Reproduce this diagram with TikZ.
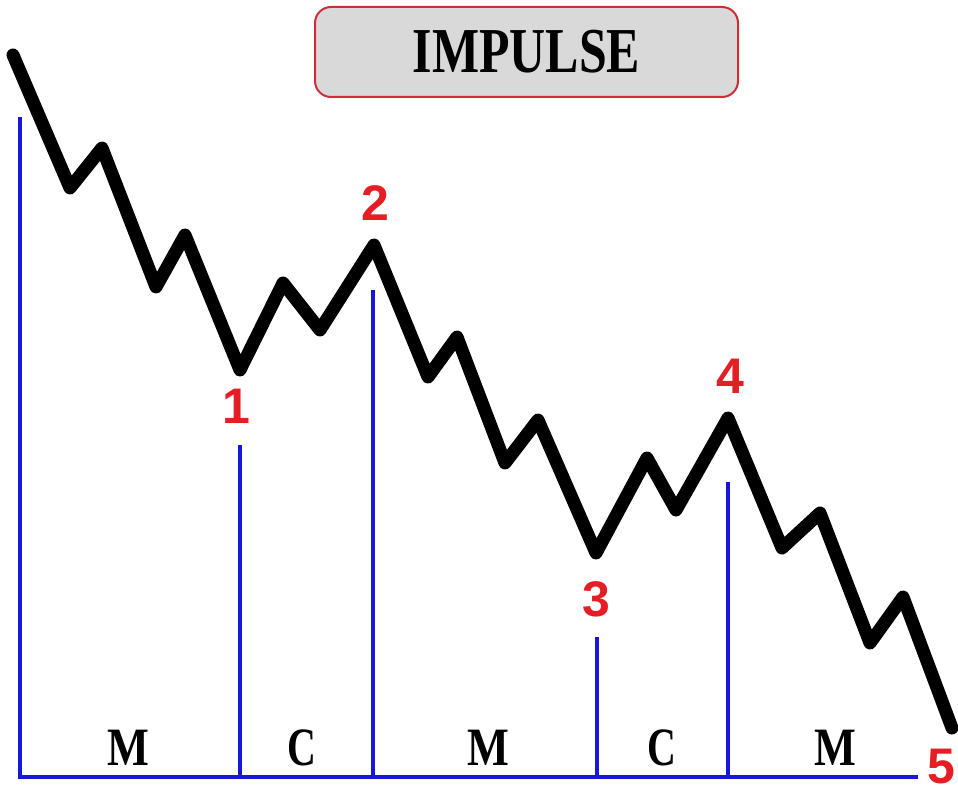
\documentclass[tikz,border=0pt]{standalone}
\usepackage{fontspec}
\setmainfont{Liberation Serif}
\newfontfamily\lsans{Liberation Sans}
\definecolor{wblue}{RGB}{22,22,220}
\definecolor{wred}{RGB}{228,30,36}
\definecolor{boxgray}{RGB}{217,217,217}
\definecolor{boxred}{RGB}{205,45,55}
\begin{document}
\begin{tikzpicture}[x=1pt,y=-1pt,
  wave/.style={line width=13pt,line cap=round,line join=round,black},
  guide/.style={line width=3.6pt,wblue},
  wnum/.style={inner sep=0pt,text=wred,font=\lsans\bfseries\fontsize{50}{50}\selectfont},
  seg/.style={inner sep=0pt,font=\bfseries\fontsize{54}{54}\selectfont},
  titlebox/.style={draw=boxred,line width=2pt,fill=boxgray,rounded corners=16pt,
    minimum width=423pt,minimum height=90pt,inner sep=0pt,
    font=\bfseries\fontsize{64}{64}\selectfont}]
\useasboundingbox (0,0) rectangle (958,789);
% title
\node[titlebox] (title) at (526.5,52) {\raisebox{-2pt}{\scalebox{0.78}[1]{IMPULSE}}};
% zigzag vertices
\coordinate (s) at (13,55);
\coordinate (a1) at (70,188);
\coordinate (a2) at (102,148);
\coordinate (a3) at (156,287);
\coordinate (a4) at (185,235);
\coordinate (w1) at (240,370);
\coordinate (b1) at (283,283);
\coordinate (b2) at (320,330);
\coordinate (w2) at (374,245);
\coordinate (c1) at (428,377);
\coordinate (c2) at (457,337);
\coordinate (c3) at (505,463);
\coordinate (c4) at (538,420);
\coordinate (w3) at (596,553);
\coordinate (d1) at (647,458);
\coordinate (d2) at (676,510);
\coordinate (w4) at (728,418);
\coordinate (e1) at (782,548);
\coordinate (e2) at (820,513);
\coordinate (e3) at (870,643);
\coordinate (e4) at (903,597);
\coordinate (w5) at (952,728);
\draw[wave] (s) -- (a1) -- (a2) -- (a3) -- (a4) -- (w1) -- (b1) -- (b2) -- (w2)
  -- (c1) -- (c2) -- (c3) -- (c4) -- (w3) -- (d1) -- (d2) -- (w4)
  -- (e1) -- (e2) -- (e3) -- (e4) -- (w5);
% guide lines
\coordinate (g0t) at (20,117);  \coordinate (g0b) at (20,777);
\coordinate (g1t) at (240,445); \coordinate (g1b) at (240,777);
\coordinate (g2t) at (373,290); \coordinate (g2b) at (373,777);
\coordinate (g3t) at (597,637); \coordinate (g3b) at (597,777);
\coordinate (g4t) at (728,482); \coordinate (g4b) at (728,777);
\coordinate (gend) at (918,777);
\draw[guide] (g0t) -- (g0b) -- (gend);
\draw[guide] (g1t) -- (g1b);
\draw[guide] (g2t) -- (g2b);
\draw[guide] (g3t) -- (g3b);
\draw[guide] (g4t) -- (g4b);
% wave numbers
\node[wnum] (n1) at (236,406) {1};
\node[wnum] (n2) at (375,203) {2};
\node[wnum] (n3) at (596,599) {3};
\node[wnum] (n4) at (730,376) {4};
\node[wnum] (n5) at (941,767) {5};
% segment letters
\node[seg] (m1) at (128,748) {\scalebox{0.82}[1]{M}};
\node[seg] (k1) at (302,748) {\scalebox{0.74}[1]{C}};
\node[seg] (m2) at (488,748) {\scalebox{0.82}[1]{M}};
\node[seg] (k2) at (662,748) {\scalebox{0.74}[1]{C}};
\node[seg] (m3) at (835,748) {\scalebox{0.82}[1]{M}};
\end{tikzpicture}
\end{document}
